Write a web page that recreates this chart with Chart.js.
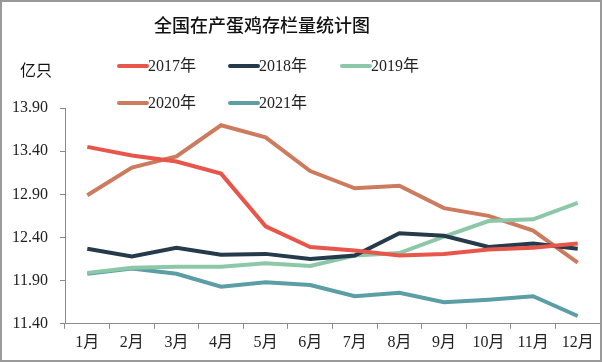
<!DOCTYPE html>
<html>
<head>
<meta charset="utf-8">
<script src="https://cdn.jsdelivr.net/npm/chart.js@4.4.1/dist/chart.umd.min.js"></script>
<style>
html,body{margin:0;padding:0;background:#fff;}
#wrap{position:relative;width:602px;height:362px;}
canvas{display:block;}
</style>
</head>
<body>
<div id="wrap"><canvas id="c" width="602" height="362"></canvas></div>
<script>
const categories = ['1月','2月','3月','4月','5月','6月','7月','8月','9月','10月','11月','12月'];
const yearLabels = ['2017年','2018年','2019年','2020年','2021年'];
const s2017 = [13.45,13.35,13.28,13.14,12.53,12.29,12.25,12.19,12.21,12.26,12.28,12.33];
const s2018 = [12.27,12.18,12.28,12.20,12.21,12.15,12.19,12.45,12.42,12.29,12.33,12.27];
const s2019 = [11.99,12.05,12.06,12.06,12.10,12.07,12.19,12.22,12.41,12.59,12.61,12.80];
const s2020 = [12.89,13.21,13.34,13.70,13.56,13.17,12.97,13.00,12.74,12.65,12.48,12.11];
const s2021 = [11.98,12.04,11.98,11.83,11.88,11.85,11.72,11.76,11.65,11.68,11.72,11.49];
const yTicks = [11.40,11.90,12.40,12.90,13.40,13.90];
const colors = ['#E8554A','#253A4A','#8CC8A8','#CD7B5E','#5B9EA6'];

const FONT = '"Liberation Serif", "Noto Sans CJK SC", serif';

const series = [s2017,s2018,s2019,s2020,s2021];
const datasets = series.map((d,i)=>({
  label: yearLabels[i],
  data: d,
  borderColor: colors[i],
  backgroundColor: colors[i],
  borderWidth: 4,
  pointRadius: 0,
  tension: 0,
  fill: false
}));

const decor = {
  id: 'decor',
  beforeDraw(chart){
    const ctx = chart.ctx;
    ctx.save();
    ctx.fillStyle = '#fff';
    ctx.fillRect(0,0,chart.width,chart.height);
    ctx.restore();
  },
  afterDraw(chart){
    const ctx = chart.ctx;
    ctx.save();
    // title
    ctx.fillStyle = '#111';
    ctx.font = '500 18px ' + FONT;
    ctx.textAlign = 'center';
    ctx.textBaseline = 'middle';
    ctx.fillText('全国在产蛋鸡存栏量统计图', 262, 27);
    // unit
    ctx.font = '16px ' + FONT;
    ctx.fillText('亿只', 36, 72);
    // legend
    const pos = [[117,66],[228,66],[340,66],[117,103],[228,103]];
    chart.data.datasets.forEach((ds,i)=>{
      const [x,y] = pos[i];
      ctx.strokeStyle = ds.borderColor;
      ctx.lineWidth = 4;
      ctx.lineCap = 'round';
      ctx.beginPath();
      ctx.moveTo(x+2,y);
      ctx.lineTo(x+30,y);
      ctx.stroke();
      ctx.fillStyle = '#222';
      ctx.font = '16px ' + FONT;
      ctx.textAlign = 'left';
      ctx.textBaseline = 'middle';
      ctx.fillText(ds.label, x+31, y+1);
    });
    // frame
    ctx.strokeStyle = '#9a9a9a';
    ctx.lineWidth = 2;
    ctx.strokeRect(1,1,chart.width-2,chart.height-2);
    ctx.restore();
  }
};

new Chart(document.getElementById('c'), {
  type: 'line',
  data: { labels: categories, datasets },
  options: {
    responsive: false,
    animation: false,
    layout: { padding: { top: 108, right: 2, left: 0, bottom: 6 } },
    plugins: { legend: { display: false }, title: { display: false }, tooltip: { enabled: false } },
    scales: {
      x: {
        offset: true,
        grid: { offset: true, drawOnChartArea: false, drawTicks: true, tickLength: 5, color: '#8a8a8a', lineWidth: 1 },
        border: { display: true, color: '#8a8a8a', width: 1 },
        ticks: { color: '#222', font: { family: FONT, size: 16 }, padding: 4, maxRotation: 0, autoSkip: false }
      },
      y: {
        min: 11.4, max: 13.9,
        afterBuildTicks(scale){ scale.ticks = yTicks.map(v=>({value:v})); },
        grid: { drawOnChartArea: false, drawTicks: true, tickLength: 5, color: '#8a8a8a' },
        border: { display: true, color: '#8a8a8a', width: 1 },
        ticks: { color: '#222', font: { family: FONT, size: 16 }, padding: 12,
          callback: v => Number(v).toFixed(2) }
      }
    }
  },
  plugins: [decor]
});
</script>
</body>
</html>
